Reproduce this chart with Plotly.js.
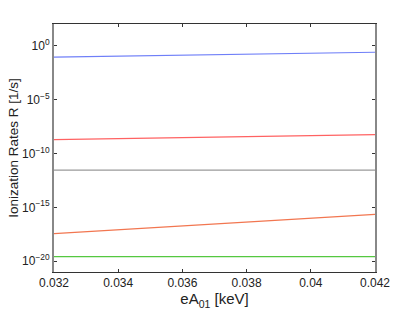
<!DOCTYPE html>
<html>
<head>
<meta charset="utf-8">
<script src="https://cdn.plot.ly/plotly-3.0.1.min.js"></script>
<style>
  html, body { margin: 0; padding: 0; background: #fff; }
  #chart { width: 415px; height: 313px; }
</style>
</head>
<body>
<div id="chart"></div>
<script>
// field strength eA01 [keV], endpoints of each curve
const fieldKeV = [0.032, 0.042];

// ionization rates R [1/s]
const rateBlue   = [8.3e-2, 2.4e-1];
const rateRed    = [1.9e-9, 5.4e-9];
const rateGray   = [2.8e-12, 2.8e-12];
const rateOrange = [3.6e-18, 2.2e-16];
const rateGreen  = [2.7e-20, 2.7e-20];

const yTickVals = [1, 1e-5, 1e-10, 1e-15, 1e-20];
const yTickText = ['10<sup>0</sup>', '10<sup>−5</sup>', '10<sup>−10</sup>', '10<sup>−15</sup>', '10<sup>−20</sup>'];
const xTickVals = [0.032, 0.034, 0.036, 0.038, 0.04, 0.042];
const xTickText = ['0.032', '0.034', '0.036', '0.038', '0.04', '0.042'];

window.addEventListener('load', function() {
  const series = [
    { y: rateBlue,   color: '#6f7ff8' },
    { y: rateRed,    color: '#ff6262' },
    { y: rateGray,   color: '#9a9a9a' },
    { y: rateOrange, color: '#f27650' },
    { y: rateGreen,  color: '#55c840' }
  ];

  const traces = series.map(s => ({
    x: fieldKeV, y: s.y, type: 'scatter', mode: 'lines',
    line: { color: s.color, width: 1.2 }, hoverinfo: 'skip'
  }));

  const font = { family: 'Liberation Sans, Arial, sans-serif', color: '#222' };

  Plotly.newPlot('chart', traces, {
    width: 415, height: 313,
    margin: { l: 54, r: 40, t: 24, b: 41 },
    paper_bgcolor: '#fff', plot_bgcolor: '#fff',
    showlegend: false,
    font: font,
    xaxis: {
      range: [0.032, 0.042],
      tickvals: xTickVals, ticktext: xTickText,
      ticks: 'inside', ticklen: 3, tickcolor: '#333',
      showline: true, linecolor: '#333', linewidth: 1, mirror: 'ticks',
      showgrid: false, zeroline: false,
      tickfont: { size: 12, family: font.family, color: '#222' },
      title: { text: 'eA<sub>01</sub> [keV]', font: { size: 15, family: font.family, color: '#222' }, standoff: 0 }
    },
    yaxis: {
      type: 'log', range: [-21, 2],
      tickvals: yTickVals, ticktext: yTickText,
      ticks: 'inside', ticklen: 3, tickcolor: '#333',
      showline: true, linecolor: '#888', linewidth: 2, mirror: 'ticks',
      showgrid: false, zeroline: false,
      tickfont: { size: 12, family: font.family, color: '#222' },
      title: { text: 'Ionization Rates R [1/s]', font: { size: 13.5, family: font.family, color: '#222' }, standoff: 0 }
    }
  }, { staticPlot: true });
});
</script>
</body>
</html>
